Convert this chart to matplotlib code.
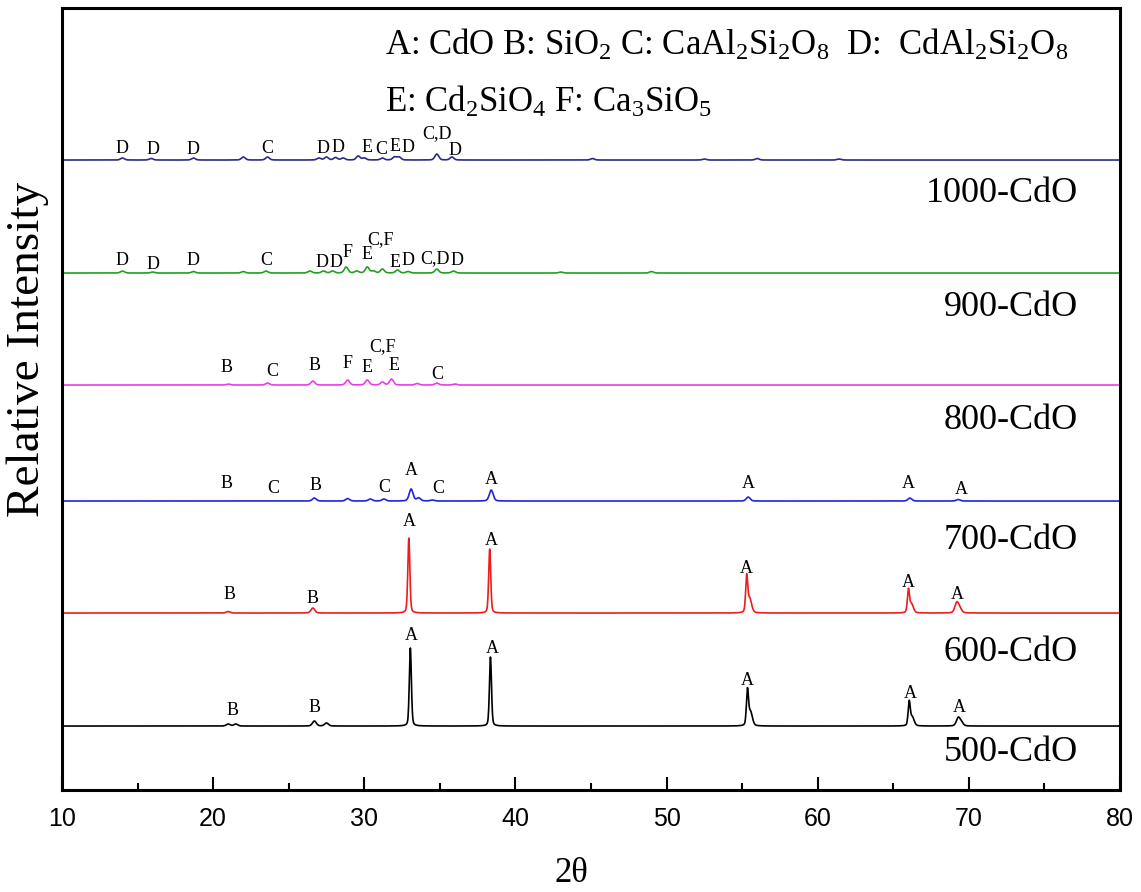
import numpy as np
import matplotlib
matplotlib.use("Agg")
import matplotlib.pyplot as plt

plt.rcParams['font.family'] = ['Liberation Serif', 'DejaVu Serif']
plt.rcParams['mathtext.fontset'] = 'custom'
plt.rcParams['mathtext.rm'] = 'Liberation Serif'
plt.rcParams['mathtext.it'] = 'Liberation Serif:italic'
plt.rcParams['mathtext.default'] = 'rm'

# samples, colours, vertical offsets of each pattern (stacked plot)
samples = ['500-CdO', '600-CdO', '700-CdO', '800-CdO', '900-CdO', '1000-CdO']
colors = ['#000000', '#ee1c1c', '#2222dd', '#e83ee8', '#22a022', '#2a2a8a']
offsets = [64, 177, 289, 405, 517, 630]

# peaks: (2theta, height)
peaks_500 = [(21.0, 2), (21.5, 2), (26.7, 5), (27.5, 3), (33.05, 78), (38.35, 69),
             (55.35, 34), (55.55, 14), (66.05, 23), (66.25, 9), (69.3, 8), (69.5, 3)]
peaks_600 = [(21.0, 1.5), (26.6, 5), (32.95, 75), (38.3, 64), (55.3, 35), (55.5, 14),
             (66.0, 22), (66.2, 9), (69.2, 10), (69.4, 4)]
peaks_700 = [(26.7, 3), (28.9, 2.5), (30.4, 2), (31.3, 2), (33.1, 12), (33.6, 3),
             (34.5, 1), (38.4, 11), (55.4, 4), (66.1, 3), (69.3, 1.5)]
peaks_800 = [(21.0, 1), (23.6, 2), (26.6, 4), (28.9, 5), (30.2, 5), (31.2, 3),
             (31.8, 6), (33.5, 1.5), (34.8, 2), (36.0, 1)]
peaks_900 = [(14.0, 2), (16.0, 1), (18.7, 1.5), (22.0, 1.5), (23.5, 2), (26.4, 2),
             (27.3, 2), (27.9, 2), (28.8, 6), (29.5, 2), (30.2, 6), (30.6, 2),
             (31.2, 4), (32.2, 3), (32.9, 1.5), (34.8, 4), (35.9, 2), (43.0, 1), (49.0, 1.5)]
peaks_1000 = [(14.0, 2), (15.9, 1.5), (18.7, 2), (22.0, 3), (23.6, 3), (27.0, 2),
              (27.5, 3), (28.1, 2.5), (28.6, 2), (29.6, 4), (30.0, 2), (31.2, 2),
              (32.0, 3), (32.3, 3), (34.8, 6), (35.8, 3), (45.1, 1.5), (52.5, 1),
              (56.0, 1.5), (61.4, 1)]
all_peaks = [peaks_500, peaks_600, peaks_700, peaks_800, peaks_900, peaks_1000]

# phase labels: (2theta, label, height of label centre above baseline)
labels_500 = [(21.3, 'B', 16), (26.7, 'B', 19), (33.1, 'A', 91), (38.45, 'A', 78),
              (55.35, 'A', 46), (66.1, 'A', 33), (69.35, 'A', 19)]
labels_600 = [(21.1, 'B', 19), (26.6, 'B', 15), (33.0, 'A', 92), (38.4, 'A', 73),
              (55.3, 'A', 45), (66.0, 'A', 31), (69.25, 'A', 19)]
labels_700 = [(20.9, 'B', 18), (24.0, 'C', 13), (26.8, 'B', 16), (31.3, 'C', 14),
              (33.1, 'A', 31), (34.9, 'C', 13), (38.4, 'A', 22), (55.4, 'A', 18),
              (66.0, 'A', 18), (69.5, 'A', 12)]
labels_800 = [(20.9, 'B', 18), (23.9, 'C', 14), (26.7, 'B', 20), (28.9, 'F', 22),
              (30.2, 'E', 18), (31.2, 'C,F', 38), (32.0, 'E', 20), (34.8, 'C', 11)]
labels_900 = [(14.0, 'D', 13), (16.0, 'D', 9), (18.7, 'D', 13), (23.5, 'C', 13),
              (27.2, 'D', 11), (28.15, 'D', 11), (28.9, 'F', 21), (30.2, 'E', 19),
              (31.1, 'C,F', 33), (32.05, 'E', 11), (32.9, 'D', 13), (34.65, 'C,D', 14),
              (36.15, 'D', 13)]
labels_1000 = [(14.0, 'D', 12), (16.0, 'D', 11), (18.7, 'D', 11), (23.6, 'C', 12),
               (27.3, 'D', 12), (28.25, 'D', 13), (30.2, 'E', 13), (31.1, 'C', 11),
               (32.05, 'E', 14), (32.9, 'D', 13), (34.8, 'C,D', 26), (36.0, 'D', 10)]
all_labels = [labels_500, labels_600, labels_700, labels_800, labels_900, labels_1000]

legend_line1 = (r'A: CdO B: SiO$_2$ C: CaAl$_2$Si$_2$O$_8$  D:  CdAl$_2$Si$_2$O$_8$')
legend_line2 = r'E: Cd$_2$SiO$_4$ F: Ca$_3$SiO$_5$'

x = np.linspace(10, 80, 4201)


def pattern(peaks):
    y = np.zeros_like(x)
    for pos, h in peaks:
        w = 0.16 if h > 15 else 0.3
        g = np.exp(-4 * np.log(2) * ((x - pos) / w) ** 2)
        l = 1 / (1 + 4 * ((x - pos) / w) ** 2)
        y += h * (0.7 * g + 0.3 * l)
    return y


fig = plt.figure(figsize=(11.41, 8.92), dpi=100)
ax = fig.add_axes([0.0543, 0.1143, 0.9273, 0.8767])

for peaks, labs, off, col, name in zip(all_peaks, all_labels, offsets, colors, samples):
    ax.plot(x, pattern(peaks) + off, color=col, lw=1.2)
    for px, txt, dy in labs:
        ax.text(px, off + dy, txt, ha='center', va='center', fontsize=13)

name_y = [38, 138, 250, 370, 483, 597]
for name, ny in zip(samples, name_y):
    ax.text(77.2, ny, name, ha='right', va='center', fontsize=26)

ax.text(31.4, 745, legend_line1, ha='left', va='center', fontsize=25)
ax.text(31.4, 688, legend_line2, ha='left', va='center', fontsize=25)

ax.set_xlim(10, 80)
ax.set_ylim(0, 782)
ax.set_xticks(np.arange(10, 81, 10))
ax.set_xticks(np.arange(15, 80, 10), minor=True)
ax.set_yticks([])
ax.tick_params(axis='x', which='major', direction='in', length=9.5, width=1.5,
               pad=12, labelsize=18)
ax.tick_params(axis='x', which='minor', direction='in', length=5, width=1.5)
for lab in ax.get_xticklabels():
    lab.set_family(['Liberation Sans Narrow', 'Liberation Sans'])
for s in ax.spines.values():
    s.set_linewidth(2.2)

ax.set_xlabel('2θ', fontsize=25)
ax.xaxis.set_label_coords(0.482, -0.085)
ax.set_ylabel('Relative Intensity', fontsize=34)
ax.yaxis.set_label_coords(-0.012, 0.563)

fig.savefig('out.png', dpi=100)
